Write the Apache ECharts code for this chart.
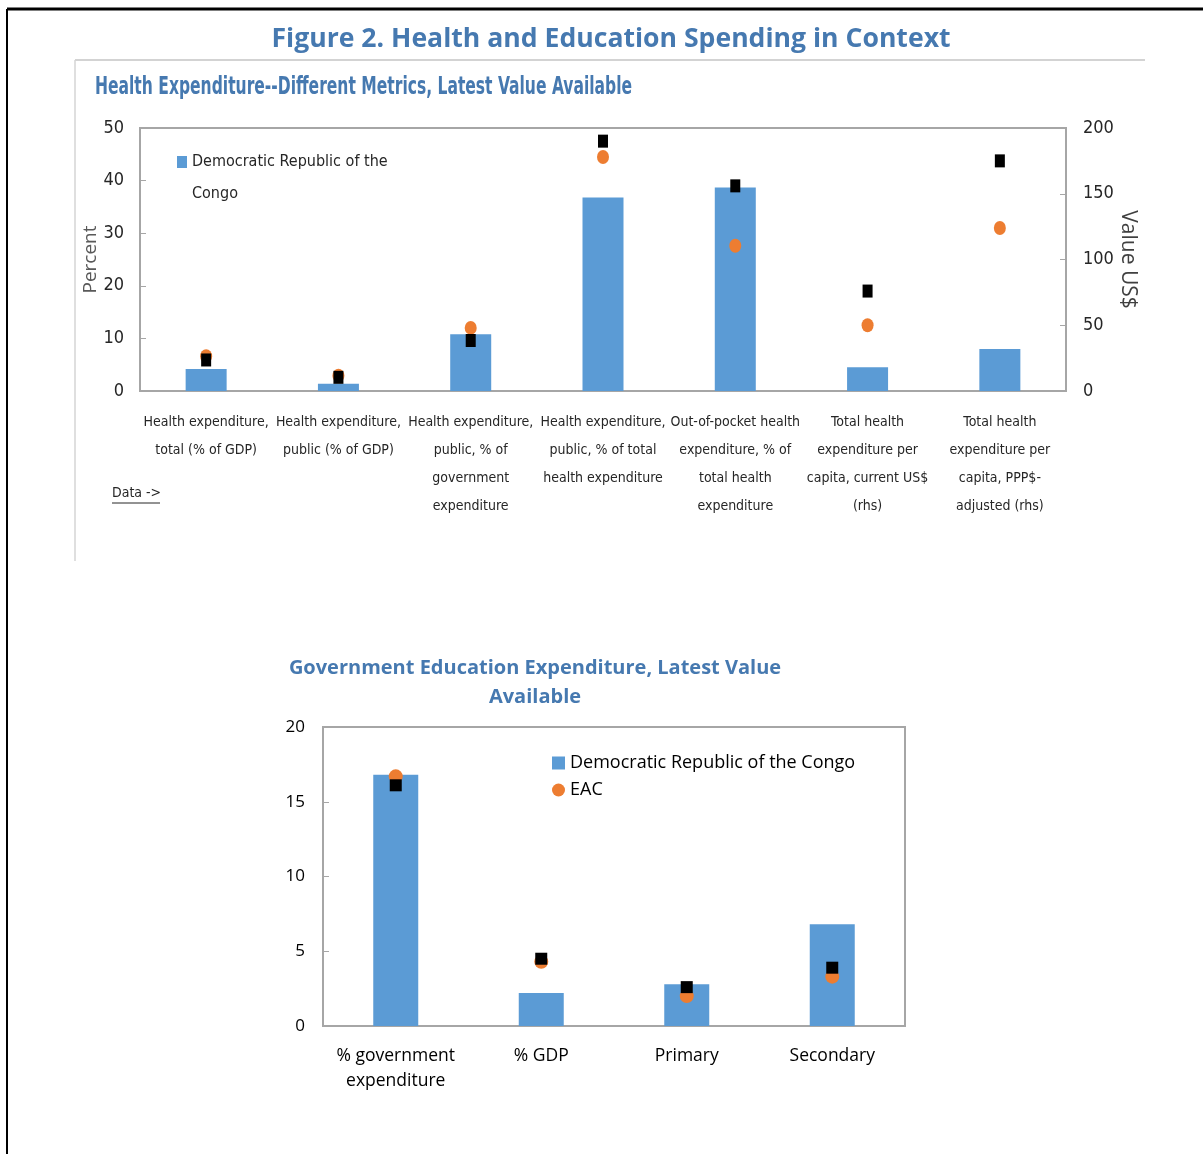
<!DOCTYPE html>
<html>
<head>
<meta charset="utf-8">
<script src="https://cdn.jsdelivr.net/npm/echarts@6/dist/echarts.min.js"></script>
<style>
  html, body { margin: 0; padding: 0; background: #fff; }
  #chart { width: 1203px; height: 1154px; }
</style>
</head>
<body>
<div id="chart"></div>
<script>
// health chart data (last two categories are read on the right axis, US$)
const healthCategories = [
  'Health expenditure,\ntotal (% of GDP)',
  'Health expenditure,\npublic (% of GDP)',
  'Health expenditure,\npublic, % of\ngovernment\nexpenditure',
  'Health expenditure,\npublic, % of total\nhealth expenditure',
  'Out-of-pocket health\nexpenditure, % of\ntotal health\nexpenditure',
  'Total health\nexpenditure per\ncapita, current US$\n(rhs)',
  'Total health\nexpenditure per\ncapita, PPP$-\nadjusted (rhs)'
];
const healthDRC = [4.2, 1.4, 10.8, 36.8, 38.7, 18, 32];
const healthEAC = [6.6, 2.9, 12.0, 44.5, 27.6, 50, 124];
const healthOther = [5.9, 2.6, 9.6, 47.5, 39.0, 76, 175];
const percentTicks = [0, 10, 20, 30, 40, 50];
const usdTicks = [0, 50, 100, 150, 200];

// education chart data
const eduCategories = ['% government\nexpenditure', '% GDP', 'Primary', 'Secondary'];
const eduDRC = [16.8, 2.2, 2.8, 6.8];
const eduEAC = [16.7, 4.3, 2.0, 3.3];
const eduOther = [16.1, 4.5, 2.6, 3.9];
const eduTicks = [0, 5, 10, 15, 20];

const DRC = 'Democratic Republic of the Congo';
const BLUE = '#5b9bd5', ORANGE = '#ed7d31', TITLE = '#4679b0', AXIS = '#a6a6a6';
const NARROW = '"DejaVu Sans Condensed", sans-serif';
const SANS = '"Open Sans", "Noto Sans", sans-serif';

const rhs = healthCategories.map(c => c.includes('(rhs)'));
const pick = (arr, onRhs) => arr.map((v, i) => rhs[i] === onRhs ? v : '-');

// legend square sits on the first of the two text lines
const topLegendIcon = 'path://M0,0L10,0L10,12L0,12Z M0,44L10,44';

const chart = echarts.init(document.getElementById('chart'));

chart.setOption({
  animation: false,
  title: [
    { text: 'Figure 2. Health and Education Spending in Context', left: 606, top: 21, textAlign: 'center',
      textStyle: { color: TITLE, fontFamily: SANS, fontWeight: 'bold', fontSize: 26.6 } },
    { text: 'Government Education Expenditure, Latest Value\nAvailable', left: 530, top: 649, textAlign: 'center',
      textStyle: { color: TITLE, fontFamily: SANS, fontWeight: 'bold', fontSize: 20, lineHeight: 29 } }
  ],
  legend: [
    { data: [{ name: DRC, icon: topLegendIcon }], left: 177, top: 146, padding: 0, orient: 'vertical',
      itemWidth: 10, itemHeight: 44, itemGap: 4,
      formatter: () => 'Democratic Republic of the\nCongo',
      textStyle: { fontFamily: NARROW, fontSize: 16, color: '#262626', lineHeight: 32 } },
    { data: [{ name: DRC, icon: 'rect' }, { name: 'EAC', icon: 'circle' }], left: 552, top: 754, padding: 0,
      orient: 'vertical', itemWidth: 13, itemHeight: 13, itemGap: 9,
      textStyle: { fontFamily: SANS, fontSize: 18, color: '#000' } }
  ],
  grid: [
    { left: 140, top: 128, width: 926, height: 263, show: true, borderColor: AXIS, borderWidth: 2 },
    { left: 323, top: 727, width: 582, height: 299, show: true, borderColor: AXIS, borderWidth: 2 }
  ],
  xAxis: [
    { type: 'category', gridIndex: 0, data: healthCategories,
      axisLine: { lineStyle: { color: AXIS, width: 2 } },
      axisTick: { inside: true, length: 5, lineStyle: { color: AXIS } },
      axisLabel: { interval: 0, margin: 17, lineHeight: 28, fontFamily: NARROW, fontSize: 14, color: '#262626' } },
    { type: 'category', gridIndex: 1, data: eduCategories,
      axisLine: { lineStyle: { color: AXIS, width: 2 } },
      axisTick: { show: false },
      axisLabel: { interval: 0, margin: 18, lineHeight: 25, fontFamily: SANS, fontSize: 17.5, color: '#000' } }
  ],
  yAxis: [
    { type: 'value', gridIndex: 0, min: percentTicks[0], max: percentTicks[percentTicks.length - 1], interval: 10,
      name: 'Percent', nameLocation: 'middle', nameGap: 40, nameRotate: 90, nameMoveOverlap: false,
      nameTextStyle: { fontFamily: SANS, fontSize: 19, color: '#595959' },
      axisLine: { show: true, lineStyle: { color: AXIS, width: 2 } },
      axisTick: { show: true, inside: true, length: 6, lineStyle: { color: AXIS } },
      splitLine: { show: false },
      axisLabel: { margin: 16, fontFamily: NARROW, fontSize: 18, color: '#262626' } },
    { type: 'value', gridIndex: 0, position: 'right', min: usdTicks[0], max: usdTicks[usdTicks.length - 1], interval: 50,
      name: 'Value US$', nameLocation: 'middle', nameGap: 51, nameRotate: -90, nameMoveOverlap: false,
      nameTextStyle: { fontFamily: SANS, fontSize: 21, color: '#404040' },
      axisLine: { show: true, lineStyle: { color: AXIS, width: 2 } },
      axisTick: { show: true, inside: true, length: 6, lineStyle: { color: AXIS } },
      splitLine: { show: false },
      axisLabel: { margin: 17, fontFamily: NARROW, fontSize: 18, color: '#262626' } },
    { type: 'value', gridIndex: 1, min: eduTicks[0], max: eduTicks[eduTicks.length - 1], interval: 5,
      axisLine: { show: true, lineStyle: { color: AXIS, width: 2 } },
      axisTick: { show: true, inside: true, length: 6, lineStyle: { color: AXIS } },
      splitLine: { show: false },
      axisLabel: { margin: 18, fontFamily: SANS, fontSize: 17, color: '#000' } }
  ],
  series: [
    { name: DRC, type: 'bar', xAxisIndex: 0, yAxisIndex: 0, data: pick(healthDRC, false),
      barWidth: 41, barGap: '-100%', itemStyle: { color: BLUE } },
    { name: DRC, type: 'bar', xAxisIndex: 0, yAxisIndex: 1, data: pick(healthDRC, true),
      barWidth: 41, barGap: '-100%', itemStyle: { color: BLUE } },
    { name: 'EAC', type: 'scatter', xAxisIndex: 0, yAxisIndex: 0, data: pick(healthEAC, false),
      symbol: 'circle', symbolSize: [12, 14], itemStyle: { color: ORANGE, opacity: 1 } },
    { name: 'EAC', type: 'scatter', xAxisIndex: 0, yAxisIndex: 1, data: pick(healthEAC, true),
      symbol: 'circle', symbolSize: [12, 14], itemStyle: { color: ORANGE, opacity: 1 } },
    { name: 'Comparator', type: 'scatter', xAxisIndex: 0, yAxisIndex: 0, data: pick(healthOther, false),
      symbol: 'rect', symbolSize: [10, 13], itemStyle: { color: '#000', opacity: 1 } },
    { name: 'Comparator', type: 'scatter', xAxisIndex: 0, yAxisIndex: 1, data: pick(healthOther, true),
      symbol: 'rect', symbolSize: [10, 13], itemStyle: { color: '#000', opacity: 1 } },

    { name: DRC, type: 'bar', xAxisIndex: 1, yAxisIndex: 2, data: eduDRC,
      barWidth: 45, itemStyle: { color: BLUE } },
    { name: 'EAC', type: 'scatter', xAxisIndex: 1, yAxisIndex: 2, data: eduEAC,
      symbol: 'circle', symbolSize: 14, itemStyle: { color: ORANGE, opacity: 1 } },
    { name: 'Comparator', type: 'scatter', xAxisIndex: 1, yAxisIndex: 2, data: eduOther,
      symbol: 'rect', symbolSize: 12, itemStyle: { color: '#000', opacity: 1 } }
  ],
  graphic: [
    // outer frame
    { type: 'line', shape: { x1: 7, y1: 9, x2: 1203, y2: 9 }, style: { stroke: '#000', lineWidth: 3 } },
    { type: 'line', shape: { x1: 7, y1: 9, x2: 7, y2: 1154 }, style: { stroke: '#000', lineWidth: 2 } },
    // panel rule for the health chart
    { type: 'line', shape: { x1: 75, y1: 60, x2: 1145, y2: 60 }, style: { stroke: '#c4c4c4', lineWidth: 1.5 } },
    { type: 'line', shape: { x1: 75, y1: 60, x2: 75, y2: 561 }, style: { stroke: '#d4d4d4', lineWidth: 1.5 } },
    // condensed panel title
    { type: 'text', x: 95, y: 76, scaleX: 0.72,
      style: { text: 'Health Expenditure--Different Metrics, Latest Value Available',
               font: 'bold 24px "DejaVu Sans Condensed", sans-serif', fill: TITLE } },
    // "Data ->" link
    { type: 'text', x: 112, y: 486,
      style: { text: 'Data ->', font: '14px "DejaVu Sans Condensed", sans-serif', fill: '#262626' } },
    { type: 'line', shape: { x1: 112, y1: 503, x2: 160, y2: 503 }, style: { stroke: '#262626', lineWidth: 1 } }
  ]
});
</script>
</body>
</html>
